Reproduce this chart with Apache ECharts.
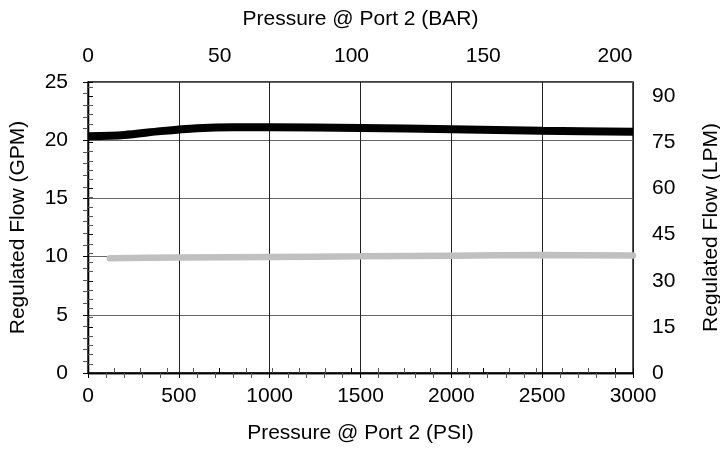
<!DOCTYPE html>
<html><head><meta charset="utf-8">
<script src="https://cdn.jsdelivr.net/npm/echarts@6/dist/echarts.min.js"></script>
<style>html,body{margin:0;padding:0;background:#fff}#c{width:720px;height:451px}</style>
</head><body><div id="c"></div>
<script>
var psiMax = 3000;
var gpmMax = 25;
var barMax = psiMax / 14.5038;
var lpmMax = gpmMax * 3.78541;
var blackPsi = [0, 200, 400, 600, 800, 1000, 1500, 2000, 2500, 3000];
var blackGpm = [20.33, 20.45, 20.78, 21.03, 21.12, 21.12, 21.05, 20.95, 20.82, 20.72];
var grayPsi = [120, 500, 1000, 1500, 2000, 2500, 3000];
var grayGpm = [9.86, 9.92, 9.97, 10.02, 10.08, 10.13, 10.1];

function pairs(xs, ys){ return xs.map(function(x,i){return [x, ys[i]];}); }
var font = '"Liberation Sans", Arial, sans-serif';
function lbl(margin, extra){
  return Object.assign({color:'#000', fontSize:21, fontFamily:font, margin:margin,
    formatter:function(v){return String(Math.round(v));}}, extra||{});
}
var nameStyle = {color:'#000', fontSize:21, fontFamily:font};
var axLine = {show:true, lineStyle:{color:'#000', width:1.3}};
var tick = {show:true, inside:false, length:5, lineStyle:{color:'#000', width:1}};
var minor = {show:true, splitNumber:5, length:5, lineStyle:{color:'#555', width:1}};

var chart = echarts.init(document.getElementById('c'));
chart.setOption({
  animation:false,
  grid:{left:88, right:87, top:82, bottom:78, show:true, borderColor:'#000', borderWidth:1.3,
        containLabel:false, outerBoundsMode:'none'},
  xAxis:[
    {type:'value', position:'bottom', min:0, max:psiMax, interval:500,
     name:'Pressure @ Port 2 (PSI)', nameLocation:'middle', nameGap:50, nameTextStyle:nameStyle,
     axisLine:axLine, axisTick:tick, minorTick:minor,
     axisLabel:lbl(13),
     splitLine:{show:true, lineStyle:{color:'#222', width:1}}},
    {type:'value', position:'top', min:0, max:barMax, interval:50,
     name:'Pressure @ Port 2 (BAR)', nameLocation:'middle', nameGap:52, nameTextStyle:nameStyle,
     axisLine:axLine, axisTick:tick, minorTick:minor,
     axisLabel:lbl(15, {showMaxLabel:false}),
     splitLine:{show:false}}
  ],
  yAxis:[
    {type:'value', position:'left', min:0, max:gpmMax, interval:5,
     name:'Regulated Flow (GPM)', nameLocation:'middle', nameGap:59, nameTextStyle:nameStyle,
     axisLine:axLine, axisTick:tick, minorTick:minor,
     axisLabel:lbl(20),
     splitLine:{show:true, lineStyle:{color:'#666', width:1}}},
    {type:'value', position:'right', min:0, max:lpmMax, interval:15,
     name:'Regulated Flow (LPM)', nameLocation:'middle', nameGap:68, nameTextStyle:nameStyle,
     axisLine:axLine, axisTick:tick, minorTick:minor,
     axisLabel:lbl(19, {showMaxLabel:false}),
     splitLine:{show:false}}
  ],
  series:[
    {type:'line', xAxisIndex:0, yAxisIndex:0, data:pairs(grayPsi, grayGpm), smooth:0.3,
     symbol:'none', lineStyle:{color:'#c0c0c0', width:6.5, cap:'round'}},
    {type:'line', xAxisIndex:0, yAxisIndex:0, data:pairs(blackPsi, blackGpm), smooth:0.3,
     symbol:'none', lineStyle:{color:'#000', width:8}}
  ]
});
</script></body></html>
